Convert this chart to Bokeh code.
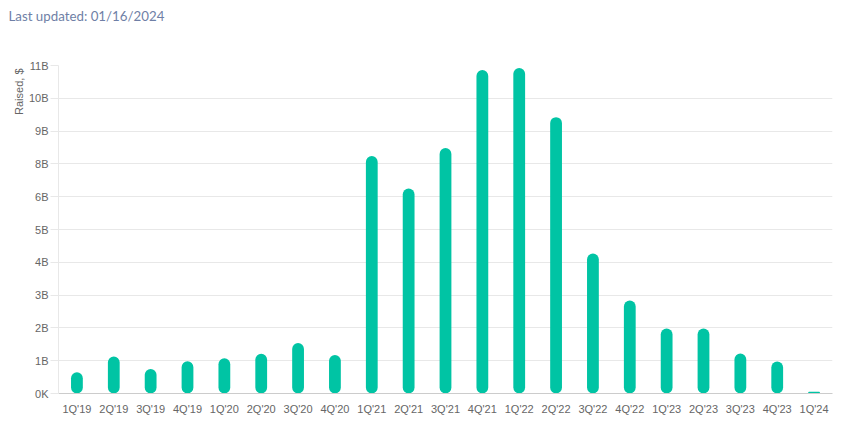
from bokeh.plotting import figure
from bokeh.models import FactorRange, Range1d, FixedTicker, Title, ColumnDataSource
from bokeh.embed import file_html
from bokeh.resources import INLINE

quarters = ["1Q'19", "2Q'19", "3Q'19", "4Q'19", "1Q'20", "2Q'20", "3Q'20", "4Q'20",
            "1Q'21", "2Q'21", "3Q'21", "4Q'21", "1Q'22", "2Q'22", "3Q'22", "4Q'22",
            "1Q'23", "2Q'23", "3Q'23", "4Q'23", "1Q'24"]
raised_b = [0.70, 1.22, 0.81, 1.06, 1.16, 1.31, 1.66, 1.27,
            7.82, 6.75, 8.08, 10.65, 10.72, 9.10, 4.61, 3.06,
            2.14, 2.14, 1.32, 1.05, 0.06]
y_ticks = [0.0, 1.08, 2.16, 3.24, 4.32, 5.40, 6.48, 7.56, 8.64, 9.72, 10.80]
y_tick_labels = ["0K", "1B", "2B", "3B", "4B", "5B", "6B", "8B", "9B", "10B", "11B"]
title_text = "Last updated: 01/16/2024"

src = ColumnDataSource(dict(q=quarters, v=raised_b))

p = figure(width=834, height=417, output_backend="svg", toolbar_location=None, title=None,
           x_range=FactorRange(*quarters, range_padding=0), y_range=Range1d(0, 10.8),
           min_border_left=58, min_border_right=2, min_border_top=65, min_border_bottom=24)

p.vbar(x="q", top="v", bottom=0, width=0.32, source=src, color="#00c4a4",
       line_color=None, border_radius=6)

# spacer panel between header and plot frame, then the header itself (outermost)
p.add_layout(Title(text=" ", text_font_size="1px", standoff=39), "above")
p.add_layout(Title(text=title_text, align="left", offset=-50, standoff=0,
                   text_font="Lato", text_font_size="13.3px", text_font_style="normal",
                   text_color="#6f7fa6"), "above")

p.outline_line_color = None
p.background_fill_color = "white"
p.border_fill_color = "white"

p.xgrid.grid_line_color = None
p.ygrid.grid_line_color = "#e8e8e8"
p.ygrid.grid_line_width = 1

p.yaxis.ticker = FixedTicker(ticks=y_ticks)
p.yaxis.major_label_overrides = {t: l for t, l in zip(y_ticks, y_tick_labels)}
p.yaxis.axis_line_color = "#e8e8e8"
p.yaxis.major_tick_line_color = "#e8e8e8"
p.yaxis.major_tick_out = 8
p.yaxis.major_tick_in = 0
p.yaxis.minor_tick_line_color = None
p.yaxis.major_label_standoff = 2
p.yaxis.major_label_text_font = "Liberation Sans"
p.yaxis.major_label_text_font_size = "11px"
p.yaxis.major_label_text_color = "#666666"

p.xaxis.axis_line_color = "#cccccc"
p.xaxis.major_tick_line_color = None
p.xaxis.major_tick_out = 0
p.xaxis.major_tick_in = 0
p.xaxis.major_label_standoff = 9
p.xaxis.major_label_text_font = "Liberation Sans"
p.xaxis.major_label_text_font_size = "11px"
p.xaxis.major_label_text_color = "#666666"

ylab = Title(text="Raised, $", align="right", text_font="Liberation Sans",
             text_font_size="11px", text_font_style="normal", text_color="#666666",
             standoff=2, offset=3)
p.add_layout(ylab, "left")

open("out.html", "w").write(file_html(p, INLINE))
